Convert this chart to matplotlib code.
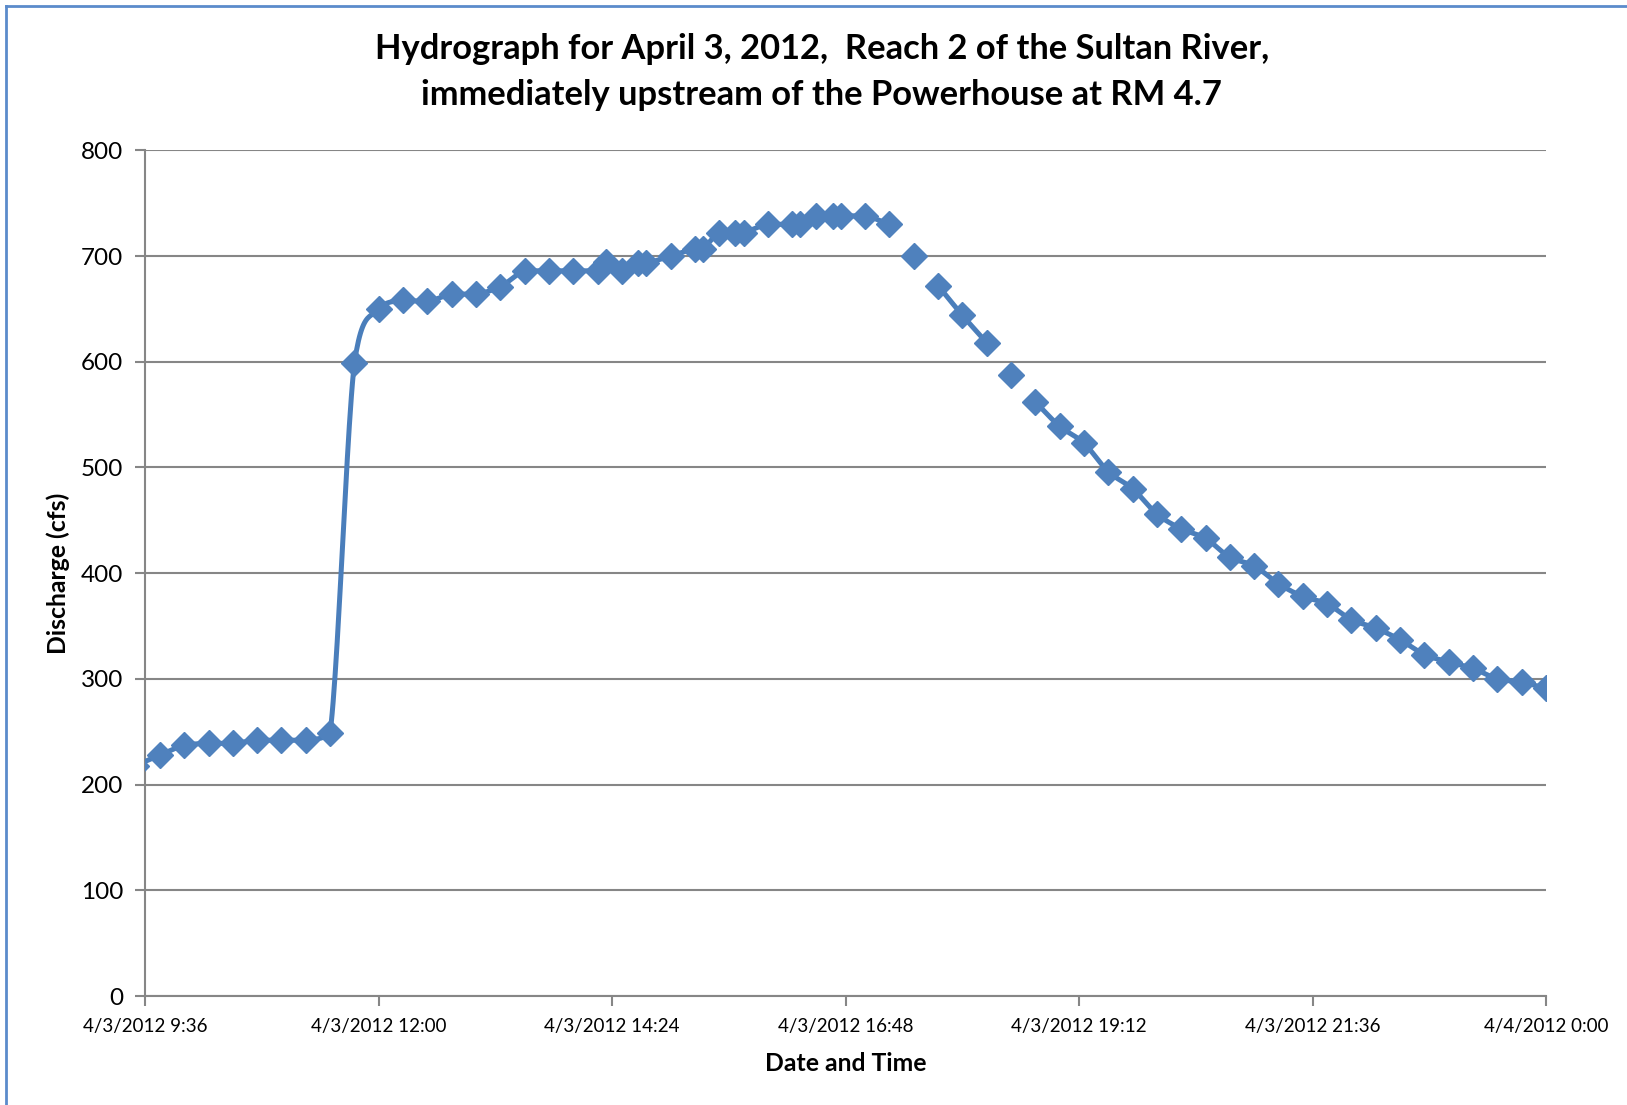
import numpy as np
import pandas as pd
import matplotlib
matplotlib.use("Agg")
import matplotlib.pyplot as plt
import matplotlib.dates as mdates
from matplotlib.ticker import FuncFormatter, MultipleLocator
from matplotlib.lines import Line2D

plt.rcParams['font.family'] = ['Lato', 'DejaVu Sans']

# Leituras (None = sem dado, a linha é interrompida)
horas = ['2012-04-03 09:30', '2012-04-03 09:45', '2012-04-03 10:00', '2012-04-03 10:15',
         '2012-04-03 10:30', '2012-04-03 10:45', '2012-04-03 11:00', '2012-04-03 11:15',
         '2012-04-03 11:30', '2012-04-03 11:45', '2012-04-03 12:00', '2012-04-03 12:15',
         '2012-04-03 12:30', '2012-04-03 12:45', '2012-04-03 13:00', '2012-04-03 13:15',
         '2012-04-03 13:30', '2012-04-03 13:45', '2012-04-03 14:00', '2012-04-03 14:15',
         '2012-04-03 14:20', '2012-04-03 14:30', '2012-04-03 14:40', '2012-04-03 14:45',
         '2012-04-03 15:00', '2012-04-03 15:15', '2012-04-03 15:20', '2012-04-03 15:30',
         '2012-04-03 15:40', '2012-04-03 15:45', '2012-04-03 16:00', '2012-04-03 16:15',
         '2012-04-03 16:20', '2012-04-03 16:30', '2012-04-03 16:40', '2012-04-03 16:45',
         '2012-04-03 17:00', '2012-04-03 17:15', '2012-04-03 17:20', '2012-04-03 17:30',
         '2012-04-03 17:35', '2012-04-03 17:45', '2012-04-03 18:00', '2012-04-03 18:15',
         '2012-04-03 18:20', '2012-04-03 18:30', '2012-04-03 18:35', '2012-04-03 18:45',
         '2012-04-03 19:00', '2012-04-03 19:15', '2012-04-03 19:30', '2012-04-03 19:45',
         '2012-04-03 20:00', '2012-04-03 20:15', '2012-04-03 20:30', '2012-04-03 20:45',
         '2012-04-03 21:00', '2012-04-03 21:15', '2012-04-03 21:30', '2012-04-03 21:45',
         '2012-04-03 22:00', '2012-04-03 22:15', '2012-04-03 22:30', '2012-04-03 22:45',
         '2012-04-03 23:00', '2012-04-03 23:15', '2012-04-03 23:30', '2012-04-03 23:45',
         '2012-04-04 00:00']
vazao = [218, 228, 237, 239,
         239, 242, 242, 242,
         249, 599, 650, 658,
         657, 664, 664, 671,
         686, 686, 686, 686,
         694, 686, 693, 693,
         700, 707, 707, 722,
         722, 722, 730, 730,
         730, 738, 738, 738,
         738, 730, None, 700,
         None, 672, 644, 618,
         None, 587, None, 562,
         539, 523, 496, 480,
         456, 442, 433, 415,
         407, 390, 378, 371,
         356, 348, 337, 323,
         316, 310, 300, 297,
         291]

inicio = '2012-04-03 09:36'
fim = '2012-04-04 00:00'

AZUL_LINHA = '#4A7EBB'
AZUL_MARC = '#4F81BD'
CINZA = '#868686'


def suavizar(x, y, n=24):
    # curva tipo "linha suavizada" do Excel (Catmull-Rom com limite p/ não passar do ponto)
    if len(x) < 2:
        return x, y
    px = np.concatenate([[2 * x[0] - x[1]], x, [2 * x[-1] - x[-2]]])
    py = np.concatenate([[2 * y[0] - y[1]], y, [2 * y[-1] - y[-2]]])
    t = np.linspace(0, 1, n, endpoint=False)
    h00 = 2 * t**3 - 3 * t**2 + 1
    h10 = t**3 - 2 * t**2 + t
    h01 = -2 * t**3 + 3 * t**2
    h11 = t**3 - t**2
    xs, ys = [], []
    for i in range(1, len(px) - 2):
        mx1 = (px[i + 1] - px[i - 1]) / 2
        mx2 = (px[i + 2] - px[i]) / 2
        my1 = (py[i + 1] - py[i - 1]) / 2
        my2 = (py[i + 2] - py[i]) / 2
        dy = py[i + 1] - py[i]
        lim = 3 * abs(dy)
        if dy == 0 or np.sign(my1) != np.sign(dy):
            my1 = 0
        if dy == 0 or np.sign(my2) != np.sign(dy):
            my2 = 0
        my1 = np.clip(my1, -lim, lim)
        my2 = np.clip(my2, -lim, lim)
        xs.append(h00 * px[i] + h10 * mx1 + h01 * px[i + 1] + h11 * mx2)
        ys.append(h00 * py[i] + h10 * my1 + h01 * py[i + 1] + h11 * my2)
    xs.append([x[-1]])
    ys.append([y[-1]])
    return np.concatenate(xs), np.concatenate(ys)


df = pd.DataFrame({'t': pd.to_datetime(horas), 'q': pd.array(vazao, dtype='Float64')})
df['x'] = mdates.date2num(df['t'])
df['grupo'] = df['q'].isna().cumsum()
df = df.dropna()

fig = plt.figure(figsize=(16.27, 11.05), dpi=100)
ax = fig.add_axes([0.0893, 0.0986, 0.8609, 0.7654])

for _, seg in df.groupby('grupo'):
    xs, ys = suavizar(seg['x'].to_numpy(float), seg['q'].to_numpy(float))
    ax.plot(xs, ys, color=AZUL_LINHA, lw=3.6, solid_capstyle='round', zorder=3)
ax.plot(df['x'], df['q'].astype(float), ls='none', marker='D', ms=13,
        color=AZUL_MARC, mec=AZUL_MARC, zorder=4)

ax.set_xlim(mdates.date2num(pd.Timestamp(inicio)), mdates.date2num(pd.Timestamp(fim)))
ax.set_ylim(0, 800)
ax.xaxis.set_major_locator(MultipleLocator(0.1))
ax.yaxis.set_major_locator(MultipleLocator(100))


def fmt_data(v, pos):
    d = mdates.num2date(v + 1e-7)
    return f"{d.month}/{d.day}/{d.year} {d.hour}:{d.minute:02d}"


ax.xaxis.set_major_formatter(FuncFormatter(fmt_data))
ax.grid(axis='y', color=CINZA, lw=1.5)
ax.set_axisbelow(True)
for s in ['top', 'right']:
    ax.spines[s].set_visible(False)
for s in ['left', 'bottom']:
    ax.spines[s].set_color(CINZA)
    ax.spines[s].set_linewidth(1.5)
ax.tick_params(axis='both', color=CINZA, width=1.5, length=7, direction='out')
ax.tick_params(axis='y', labelsize=17.5, pad=9)
ax.tick_params(axis='x', labelsize=13.5, pad=9)

ax.set_ylabel('Discharge (cfs)', fontsize=17.8, fontweight='bold', labelpad=8)
ax.set_xlabel('Date and Time', fontsize=17.8, fontweight='bold', labelpad=12)
fig.text(0.505, 0.956, 'Hydrograph for April 3, 2012,  Reach 2 of the Sultan River,',
         ha='center', va='center', fontsize=24.8, fontweight='bold')
fig.text(0.505, 0.914, 'immediately upstream of the Powerhouse at RM 4.7',
         ha='center', va='center', fontsize=24.8, fontweight='bold')

# moldura azul do gráfico (só aparecem a esquerda e o topo)
fig.add_artist(Line2D([0.0037, 0.0037], [0, 0.9946], transform=fig.transFigure,
                      color='#5B8BCB', lw=2))
fig.add_artist(Line2D([0.0037, 1], [0.9946, 0.9946], transform=fig.transFigure,
                      color='#5B8BCB', lw=2))

fig.savefig('out.png', dpi=100)
plt.close(fig)
